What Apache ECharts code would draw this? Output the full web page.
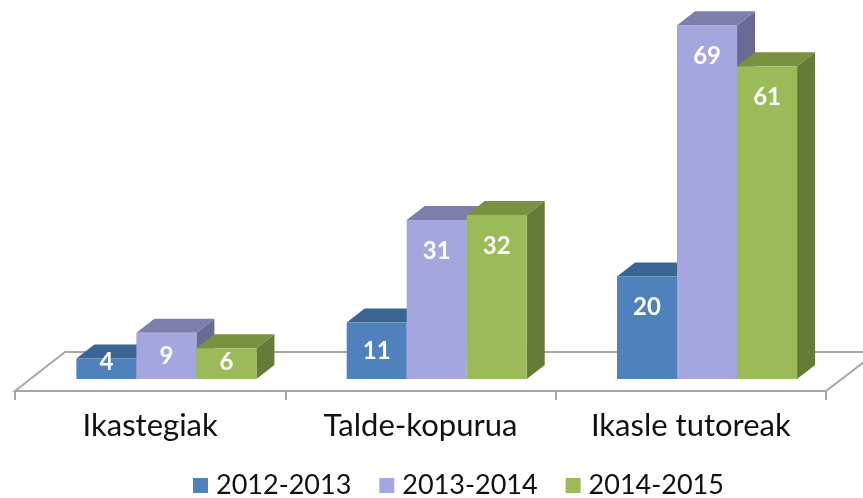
<!DOCTYPE html>
<html>
<head>
<meta charset="utf-8">
<script src="https://cdn.jsdelivr.net/npm/echarts@6/dist/echarts.min.js"></script>
<style>
  html, body { margin: 0; padding: 0; background: #fff; }
  #chart { width: 863px; height: 498px; }
</style>
</head>
<body>
<div id="chart"></div>
<script>
"use strict";

var categories = ['Ikastegiak', 'Talde-kopurua', 'Ikasle tutoreak'];
var years = ['2012-2013', '2013-2014', '2014-2015'];
var values2012 = [4, 11, 20];
var values2013 = [9, 31, 69];
var values2014 = [6, 32, 61];

// front / top / side shades for each year
var faceColors = [
  { front: '#4f81bd', top: '#3b6493', side: '#385d87' },
  { front: '#a5a5e0', top: '#7e7eac', side: '#6a6a94' },
  { front: '#9bbb59', top: '#79923f', side: '#667b37' }
];

var DX = 18, DY = 14;   // depth of the 3d boxes
var LIFT = 12;          // bars stand a bit behind the front edge of the floor

function barRenderer(idx) {
  return function (params, api) {
    var base = api.coord([api.value(0), 0]);
    var top = api.coord([api.value(0), api.value(1)]);
    var band = api.size([1, 0])[0];
    var barW = band * 0.222;
    var shift = band * 0.06;
    var x0 = base[0] + shift - 1.5 * barW + idx * barW;
    var x1 = x0 + barW;
    var ty = top[1] - LIFT, by = base[1] - LIFT;
    var c = faceColors[idx];
    var h = by - ty;
    var ly = Math.min(ty + Math.min(31, h / 2), by - 17);
    return {
      type: 'group',
      children: [
        { type: 'polygon', shape: { points: [[x1, ty], [x1 + DX, ty - DY], [x1 + DX, by - DY], [x1, by]] },
          style: { fill: c.side } },
        { type: 'polygon', shape: { points: [[x0, ty], [x1, ty], [x1 + DX, ty - DY], [x0 + DX, ty - DY]] },
          style: { fill: c.top } },
        { type: 'rect', shape: { x: x0, y: ty, width: barW, height: h },
          style: { fill: c.front } },
        { type: 'text', x: (x0 + x1) / 2, y: ly,
          style: { text: String(api.value(1)), fill: '#fff', font: 'bold 24px Lato, sans-serif',
                   align: 'center', verticalAlign: 'middle' } }
      ]
    };
  };
}

function floorRenderer(params, api) {
  var cs = params.coordSys;
  var fy = cs.y + cs.height;
  var backY = fy - 39;
  var lx = cs.x, rx = cs.x + cs.width;
  return {
    type: 'polygon',
    shape: { points: [[lx, fy], [rx, fy], [rx + 51, backY], [lx + 50, backY]] },
    style: { fill: '#fff', stroke: '#a6a6a6', lineWidth: 2 }
  };
}

function makeData(vals) {
  return vals.map(function (v, i) { return [i, v]; });
}

var seriesValues = [values2012, values2013, values2014];
var series = [{
  type: 'custom',
  name: 'floor',
  z: 1,
  silent: true,
  renderItem: floorRenderer,
  data: [[0, 0]],
  encode: { x: 0, y: 1 }
}];
years.forEach(function (y, i) {
  series.push({
    type: 'custom',
    name: y,
    z: 2,
    itemStyle: { color: faceColors[i].front },
    renderItem: barRenderer(i),
    data: makeData(seriesValues[i]),
    encode: { x: 0, y: 1 }
  });
});

var myChart = echarts.init(document.getElementById('chart'), null, { renderer: 'canvas' });
myChart.setOption({
  animation: false,
  backgroundColor: '#fff',
  grid: { left: 15, right: 37, top: 32, bottom: 107, containLabel: false },
  xAxis: {
    type: 'category',
    data: categories,
    z: 3,
    axisLine: { show: true, lineStyle: { color: '#a6a6a6', width: 2 } },
    axisTick: { show: true, inside: false, length: 9, lineStyle: { color: '#a6a6a6', width: 2 } },
    axisLabel: { margin: 19, color: '#111', fontSize: 31, fontFamily: 'Lato, sans-serif' },
    splitLine: { show: false }
  },
  yAxis: {
    type: 'value',
    min: 0,
    max: 70,
    show: false
  },
  legend: {
    data: years,
    bottom: -1,
    left: 193,
    padding: 0,
    icon: 'rect',
    itemWidth: 15,
    itemHeight: 15,
    itemGap: 28,
    textStyle: { color: '#111', fontSize: 27, fontFamily: 'Lato, sans-serif', padding: [0, 0, 0, 3] }
  },
  series: series
});
</script>
</body>
</html>
